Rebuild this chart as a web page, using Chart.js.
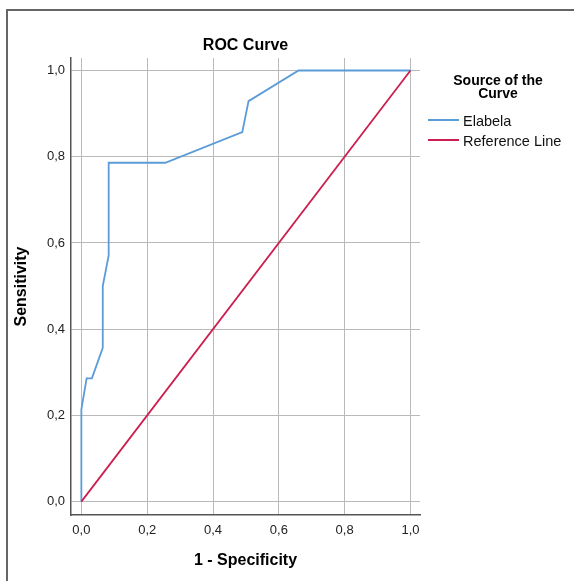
<!DOCTYPE html>
<html>
<head>
<meta charset="utf-8">
<script src="https://cdn.jsdelivr.net/npm/chart.js@4"></script>
<style>
  html, body { margin: 0; padding: 0; background: #fff; overflow: hidden; }
  #wrap { position: relative; width: 574px; height: 581px; overflow: hidden; font-family: 'Liberation Sans', Arial, sans-serif; }
  #frame { position: absolute; left: 6px; top: 9px; width: 700px; height: 700px; border-left: 2px solid #666; border-top: 2px solid #666; box-sizing: border-box; }
  canvas { position: absolute; left: 0; top: 0; }
  .lg-title { position: absolute; left: 428px; top: 74px; width: 140px; text-align: center; font-weight: bold; font-size: 14px; line-height: 13px; color: #000; }
  .lg-item { position: absolute; left: 428px; height: 18px; font-size: 14.5px; line-height: 18px; color: #111; white-space: nowrap; }
  .lg-item span.sw { display: inline-block; width: 31px; height: 0; border-top: 2px solid; vertical-align: middle; margin-right: 4px; position: relative; top: -2px; }
</style>
</head>
<body>
<div id="wrap">
  <div id="frame"></div>
  <canvas id="c" width="574" height="581"></canvas>
  <div class="lg-title">Source of the<br>Curve</div>
  <div class="lg-item" style="top:112px"><span class="sw" style="border-color:#5b9bd8"></span>Elabela</div>
  <div class="lg-item" style="top:132px"><span class="sw" style="border-color:#cc1f4f"></span>Reference Line</div>
</div>
<script>
// ---- data ----
const seriesNames = ['Elabela', 'Reference Line'];
const elabelaX = [0, 0, 0.016, 0.032, 0.065, 0.065, 0.083, 0.083, 0.255, 0.489, 0.508, 0.660, 1];
const elabelaY = [0, 0.214, 0.286, 0.286, 0.357, 0.5, 0.571, 0.786, 0.786, 0.857, 0.929, 1, 1];
const referenceX = [0, 1];
const referenceY = [0, 1];
const tickValues = [0, 0.2, 0.4, 0.6, 0.8, 1.0];
const tickLabels = ['0,0', '0,2', '0,4', '0,6', '0,8', '1,0'];
const chartTitle = 'ROC Curve';
const xTitle = '1 - Specificity';
const yTitle = 'Sensitivity';

const FONT = "'Liberation Sans', Arial, sans-serif";
const toPts = (xs, ys) => xs.map((x, i) => ({ x: x, y: ys[i] }));
const fixTicks = axis => { axis.ticks = tickValues.map(v => ({ value: v })); };
const fmt = (v) => { const i = tickValues.findIndex(t => Math.abs(t - v) < 1e-9); return i >= 0 ? tickLabels[i] : ''; };

new Chart(document.getElementById('c'), {
  type: 'scatter',
  data: {
    datasets: [
      { label: seriesNames[0], data: toPts(elabelaX, elabelaY), showLine: true, borderColor: '#5b9bd8', borderWidth: 1.8, pointRadius: 0, tension: 0, order: 2 },
      { label: seriesNames[1], data: toPts(referenceX, referenceY), showLine: true, borderColor: '#cc1f4f', borderWidth: 1.8, pointRadius: 0, tension: 0, order: 1 }
    ]
  },
  options: {
    responsive: false,
    animation: false,
    layout: { padding: { left: 0, right: 154, top: 0, bottom: 0 } },
    plugins: {
      legend: { display: false },
      tooltip: { enabled: false },
      title: {
        display: true, text: chartTitle, fullSize: false, color: '#000',
        font: { family: FONT, size: 16, weight: 'bold' },
        padding: { top: 36, bottom: 2.8 }
      }
    },
    scales: {
      x: {
        type: 'linear', min: -0.0315, max: 1.029,
        afterBuildTicks: fixTicks,
        afterFit: s => { s.height = 66; },
        grid: { color: '#b9b9b9', lineWidth: 1, drawTicks: false },
        border: { display: true, color: '#555', width: 1.5 },
        ticks: { color: '#222', padding: 8, font: { family: FONT, size: 13 }, callback: fmt, maxRotation: 0 },
        title: { display: true, text: xTitle, color: '#000', font: { family: FONT, size: 16, weight: 'bold' }, padding: { top: 0, bottom: 10.4 } }
      },
      y: {
        type: 'linear', min: -0.031, max: 1.029,
        afterBuildTicks: fixTicks,
        afterFit: s => { s.width = 71; },
        grid: { color: '#b9b9b9', lineWidth: 1, drawTicks: false },
        border: { display: true, color: '#555', width: 1.5 },
        ticks: { color: '#222', padding: 6, font: { family: FONT, size: 13 }, callback: fmt },
        title: { display: true, text: yTitle, color: '#000', font: { family: FONT, size: 16, weight: 'bold' }, padding: { top: 12.4, bottom: 0 } }
      }
    }
  }
});
</script>
</body>
</html>
